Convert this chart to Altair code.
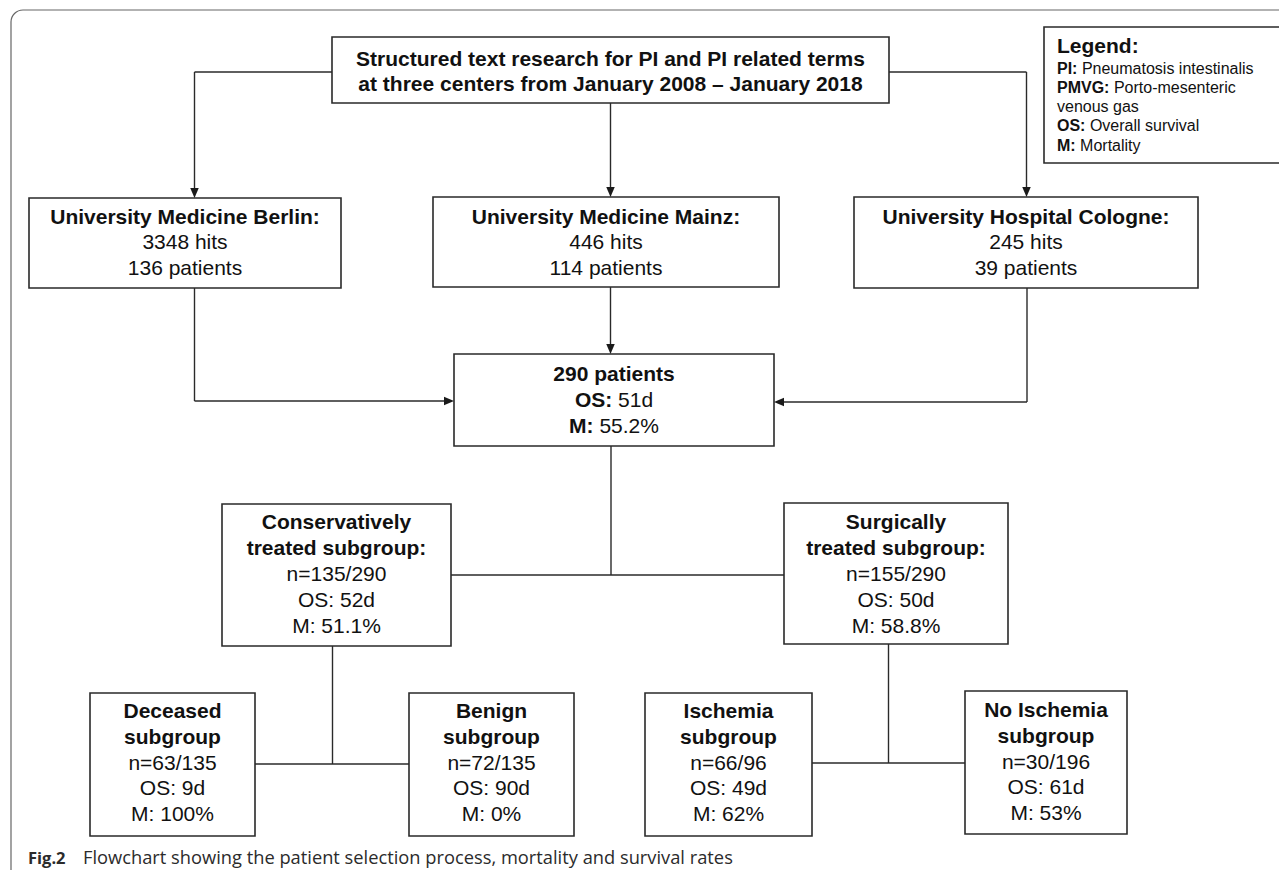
import altair as alt
import pandas as pd

# ---------------- content ----------------
top_lines = ["Structured text research for PI and PI related terms",
             "at three centers from January 2008 \u2013 January 2018"]
center_names = ["University Medicine Berlin:", "University Medicine Mainz:", "University Hospital Cologne:"]
center_hits = [3348, 446, 245]
center_patients = [136, 114, 39]
total_patients = 290
total_os = "51d"
total_m = "55.2%"
treat_title1 = ["Conservatively", "Surgically"]
treat_title2 = ["treated subgroup:", "treated subgroup:"]
treat_n = ["135/290", "155/290"]
treat_os = ["52d", "50d"]
treat_m = ["51.1%", "58.8%"]
sub_title1 = ["Deceased", "Benign", "Ischemia", "No Ischemia"]
sub_title2 = ["subgroup", "subgroup", "subgroup", "subgroup"]
sub_n = ["63/135", "72/135", "66/96", "30/196"]
sub_os = ["9d", "90d", "49d", "61d"]
sub_m = ["100%", "0%", "62%", "53%"]
legend_title = "Legend:"
legend_terms = ["PI:", "PMVG:", "", "OS:", "M:"]
legend_defs = ["Pneumatosis intestinalis", "Porto-mesenteric", "venous gas", "Overall survival", "Mortality"]
caption_label = "Fig.2"
caption_text = "Flowchart showing the patient selection process, mortality and survival rates"

# ---------------- layout (screen pixels) ----------------
W, H = 1271, 862
X0, Y0 = 8, 8
BOX = {
    "top": (332, 889, 37, 103),
    "legend": (1044, 1281, 27, 163),
    "berlin": (29, 341, 198, 288),
    "mainz": (433, 779, 197, 287),
    "cologne": (854, 1198, 197, 288),
    "total": (454, 774, 354, 446),
    "cons": (222, 451, 504, 646),
    "surg": (784, 1008, 503, 644),
    "dec": (90, 255, 693, 836),
    "ben": (409, 574, 693, 836),
    "isc": (645, 812, 693, 836),
    "noisc": (965, 1127, 691, 834),
}
FS = 21
FONT = "Liberation Sans, Arial, Helvetica, sans-serif"

REG = {c: 0.556 for c in "0123456789d"}
REG.update({" ": 0.278, ":": 0.278, ".": 0.278, "%": 0.889})
BOLD = {"O": 0.778, "S": 0.667, "M": 0.833, "P": 0.667, "I": 0.278, "V": 0.667, "G": 0.778, ":": 0.333, " ": 0.278}


def wid(s, table, size):
    return sum(table.get(c, 0.556) for c in s) * size


texts = []  # x, y, text, style


def add_box_lines(key, lines, y_first, step):
    x1, x2, _, _ = BOX[key]
    cx = (x1 + x2) / 2
    for i, (b, r) in enumerate(lines):
        y = y_first + i * step
        if b and r:
            wb = wid(b, BOLD, FS)
            ws = 0.278 * FS
            wr = wid(r, REG, FS)
            start = cx - (wb + ws + wr) / 2
            texts.append(dict(x=start + wb, y=y, text=b, style="bold_r"))
            texts.append(dict(x=start + wb + ws, y=y, text=r, style="reg_l"))
        elif b:
            texts.append(dict(x=cx, y=y, text=b, style="bold_c"))
        else:
            texts.append(dict(x=cx, y=y, text=r, style="reg_c"))


add_box_lines("top", [(t, "") for t in top_lines], 59.5, 25)
for k, nm, hits, pts in zip(["berlin", "mainz", "cologne"], center_names, center_hits, center_patients):
    add_box_lines(k, [(nm, ""), ("", f"{hits} hits"), ("", f"{pts} patients")], 217.5, 25.5)
add_box_lines("total", [(f"{total_patients} patients", ""), ("OS:", total_os), ("M:", total_m)], 375, 26)
for k, t1, t2, n, os_, m in zip(["cons", "surg"], treat_title1, treat_title2, treat_n, treat_os, treat_m):
    add_box_lines(k, [(t1, ""), (t2, ""), ("", f"n={n}"), ("", f"OS: {os_}"), ("", f"M: {m}")], 522.5, 26)
for k, t1, t2, n, os_, m in zip(["dec", "ben", "isc", "noisc"], sub_title1, sub_title2, sub_n, sub_os, sub_m):
    yf = 711 if k == "noisc" else 712
    add_box_lines(k, [(t1, ""), (t2, ""), ("", f"n={n}"), ("", f"OS: {os_}"), ("", f"M: {m}")], yf, 25.8)

# legend
LX = 1057
legend_rows = [dict(x=LX, y=47, text=legend_title, style="leg_title")]
ly = [69, 88, 107, 126, 146]
for y, t, d in zip(ly, legend_terms, legend_defs):
    off = 0
    if t:
        legend_rows.append(dict(x=LX, y=y, text=t, style="leg_b"))
        off = wid(t, BOLD, 16) + 0.278 * 16
    legend_rows.append(dict(x=LX + off, y=y, text=d, style="leg_r"))
texts += legend_rows

cap_rows = [dict(x=28, y=859, text=caption_label, style="cap_b"),
            dict(x=83, y=859, text=caption_text, style="cap_r")]
texts += cap_rows

tdf = pd.DataFrame(texts)

# connectors
segs = [
    (332, 72, 194.5, 72), (194.5, 72, 194.5, 190),
    (610.5, 103, 610.5, 189),
    (889, 72, 1026.5, 72), (1026.5, 72, 1026.5, 189),
    (194.5, 288, 194.5, 401), (194.5, 401, 446, 401),
    (610.5, 287, 610.5, 346),
    (1027, 288, 1027, 402), (1027, 402, 782, 402),
    (611, 446, 611, 575), (451, 575, 784, 575),
    (332.5, 646, 332.5, 764), (255, 764, 409, 764),
    (888.5, 644, 888.5, 763), (812, 763, 965, 763),
]
sdf = pd.DataFrame(segs, columns=["x", "y", "x2", "y2"])

DOWN = "M-0.85,-1L0.85,-1L0,1Z"
RIGHT = "M-1,-0.85L1,0L-1,0.85Z"
LEFT = "M1,-0.85L-1,0L1,0.85Z"
arrows = [
    (194.5, 193, DOWN), (610.5, 192, DOWN), (1026.5, 192, DOWN),
    (610.5, 349, DOWN), (449, 401, RIGHT), (779, 402, LEFT),
]
adf = pd.DataFrame(arrows, columns=["x", "y", "shape"])

bdf = pd.DataFrame([dict(name=k, x=v[0], x2=v[1], y=v[2], y2=v[3]) for k, v in BOX.items()])

xs = alt.Scale(domain=[X0, X0 + W], nice=False, zero=False)
ys = alt.Scale(domain=[Y0, Y0 + H], nice=False, zero=False, reverse=True)
X = alt.X("x:Q", scale=xs, axis=None)
Y = alt.Y("y:Q", scale=ys, axis=None)

frame = alt.Chart(pd.DataFrame([dict(x=11, y=10, x2=1400, y2=1000)])).mark_rect(
    fillOpacity=0, stroke="#666", strokeWidth=1.2, cornerRadius=12
).encode(x=X, x2="x2:Q", y=Y, y2="y2:Q")

boxes = alt.Chart(bdf).mark_rect(
    fill="white", stroke="#2a2a2a", strokeWidth=1.6
).encode(x=X, x2="x2:Q", y=Y, y2="y2:Q")

rules = alt.Chart(sdf).mark_rule(color="#2a2a2a", strokeWidth=1.4).encode(
    x=X, x2="x2:Q", y=Y, y2="y2:Q")

heads = alt.Chart(adf).mark_point(filled=True, size=100, color="#1a1a1a", opacity=1).encode(
    x=X, y=Y, shape=alt.Shape("shape:N", scale=None, legend=None))

STYLES = {
    "bold_c": dict(font=FONT, fontSize=FS, fontWeight="bold", align="center"),
    "reg_c": dict(font=FONT, fontSize=FS, fontWeight="normal", align="center"),
    "bold_r": dict(font=FONT, fontSize=FS, fontWeight="bold", align="right"),
    "reg_l": dict(font=FONT, fontSize=FS, fontWeight="normal", align="left"),
    "leg_title": dict(font=FONT, fontSize=21, fontWeight="bold", align="left"),
    "leg_b": dict(font=FONT, fontSize=16, fontWeight="bold", align="left"),
    "leg_r": dict(font=FONT, fontSize=16, fontWeight="normal", align="left"),
    "cap_b": dict(font="Open Sans", fontSize=16.5, fontWeight="bold", align="left"),
    "cap_r": dict(font="Open Sans", fontSize=18.3, fontWeight="normal", align="left"),
}

text_layers = []
for st, props in STYLES.items():
    sub = tdf[tdf["style"] == st]
    if len(sub) == 0:
        continue
    color = "#2b2b2b" if st.startswith("cap") else "#111111"
    text_layers.append(
        alt.Chart(sub).mark_text(baseline="middle", color=color, **props).encode(
            x=X, y=Y, text="text:N")
    )

chart = alt.layer(frame, rules, boxes, heads, *text_layers).properties(
    width=W, height=H, padding=0, autosize=alt.AutoSizeParams(type="none")
).configure_view(stroke=None)

chart.save("out.html", embed_options={"renderer": "svg", "actions": False})
